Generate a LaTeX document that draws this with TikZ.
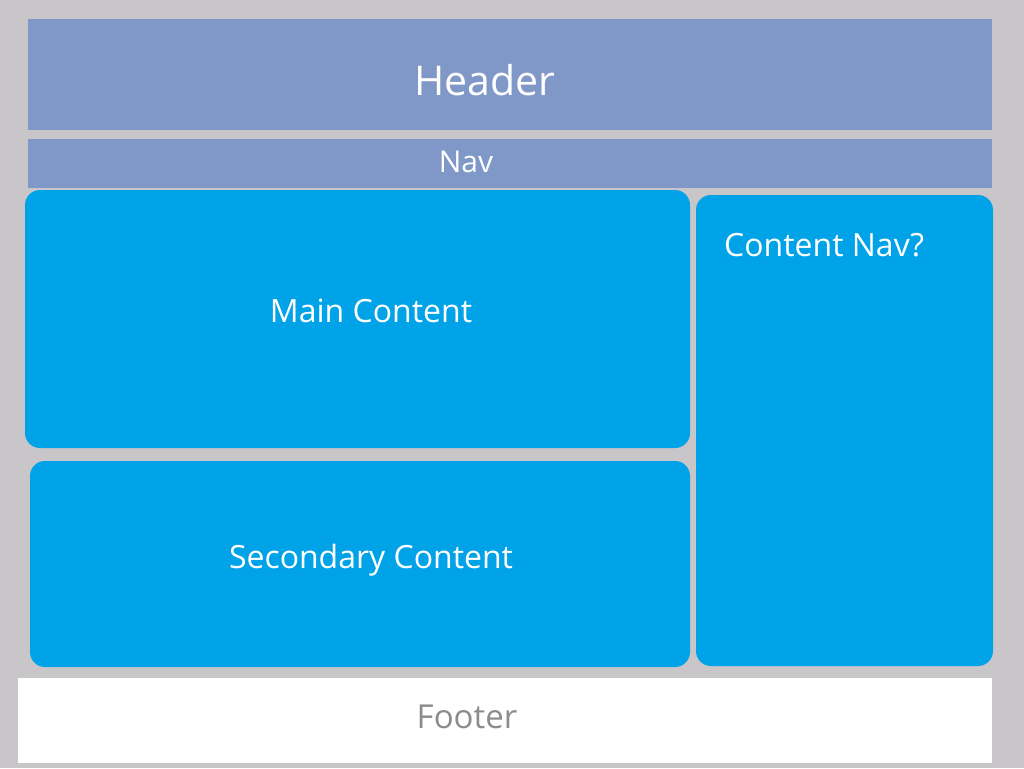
\documentclass[tikz,border=0pt]{standalone}
\usepackage{fontspec}
\setmainfont{Open Sans}
\definecolor{bggray}{RGB}{200,198,200}
\definecolor{headblue}{RGB}{128,152,200}
\definecolor{boxblue}{RGB}{0,162,232}
\tikzset{
  bar/.style={fill=headblue, draw=none},
  panel/.style={fill=boxblue, draw=none, rounded corners=15pt},
  lbl/.style={text=white, inner sep=0pt, font=\fontsize{32}{38}\selectfont},
}
\begin{document}
\begin{tikzpicture}[x=1pt,y=-1pt]
\fill[bggray] (0,0) rectangle (1024,768);
\useasboundingbox (0,0) rectangle (1024,768);
\fill[bar] (28,19) rectangle (992,130);
\fill[bar] (28,139) rectangle (992,188);
\fill[panel] (25,190) rectangle (690,448);
\fill[panel] (30,461) rectangle (690,667);
\fill[panel] (696,195) rectangle (993,666);
\fill[white] (18,678) rectangle (992,763);
\node[lbl, font=\fontsize{41}{48}\selectfont] (header) at (485,80) {Header};
\node[lbl, font=\fontsize{30}{36}\selectfont] (nav) at (466,162) {Nav};
\node[lbl] (main) at (371,311) {Main Content};
\node[lbl] (second) at (371,560) {Secondary Content};
\node[lbl, anchor=west] (cnav) at (724,245) {Content Nav?};
\node[lbl, text=black!45, font=\fontsize{33}{38}\selectfont] (footer) at (467,717) {Footer};
\end{tikzpicture}
\end{document}
